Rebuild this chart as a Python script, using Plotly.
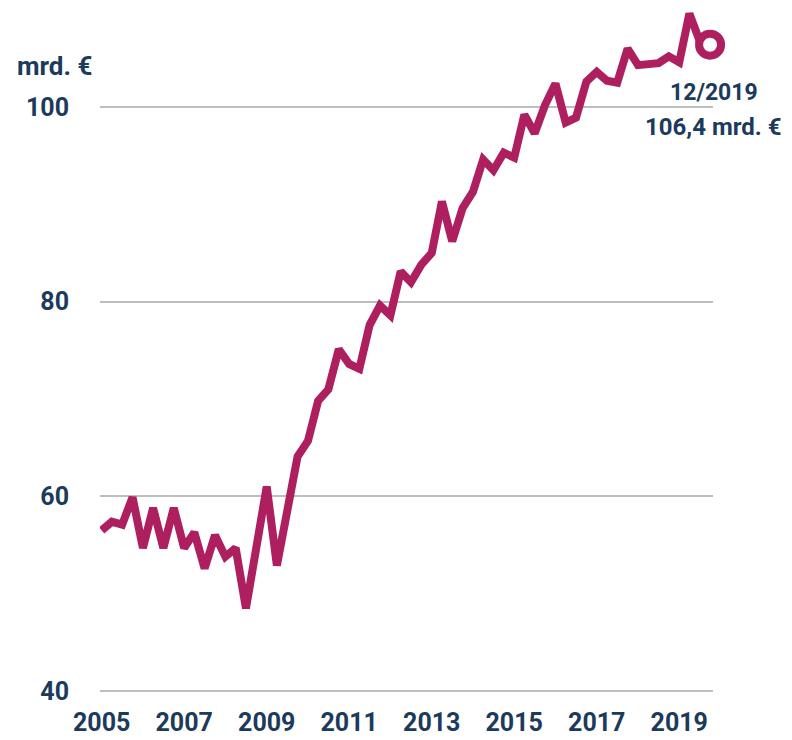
import plotly.graph_objects as go
import pandas as pd

# quarterly values, 2005 Q1 .. 2019 Q4 (mrd. €)
quarters = pd.date_range("2005-01-01", "2019-10-01", freq="QS")
values = [
    56.5, 57.4, 57.1, 59.9, 54.7, 58.8, 54.7, 58.8, 54.7, 56.3,
    52.6, 56.0, 53.8, 54.7, 48.5, 55.0, 61.0, 52.9, 58.9, 64.1,
    65.7, 69.8, 71.0, 75.1, 73.6, 73.1, 77.6, 79.6, 78.6, 83.1,
    82.0, 83.8, 85.0, 90.3, 86.2, 89.6, 91.3, 94.6, 93.5, 95.3,
    94.8, 99.2, 97.3, 100.2, 102.4, 98.4, 98.9, 102.6, 103.6, 102.7,
    102.5, 106.0, 104.3, 104.4, 104.5, 105.2, 104.6, 109.6, 106.8, 106.4,
]
y_ticks = [40, 60, 80, 100]
x_ticks = ["2005", "2007", "2009", "2011", "2013", "2015", "2017", "2019"]

LINE_COLOR = "#AE1F5F"
TEXT_COLOR = "#1B3A5C"
FONT = "Roboto"
PAGE_OFFSET = 8   # body margin of the html page
PLOT_H = 685      # plot area height in px
PLOT_W = 613


def py(page_y):
    # pixel row on the page -> paper y
    return 1 - (page_y - PAGE_OFFSET) / PLOT_H


def px(page_x):
    return (page_x - PAGE_OFFSET - 92) / PLOT_W


fig = go.Figure()

fig.add_trace(go.Scatter(
    x=quarters,
    y=values,
    mode="lines",
    line=dict(color=LINE_COLOR, width=8),
    hoverinfo="skip",
))

fig.add_trace(go.Scatter(
    x=[quarters[-1]],
    y=[values[-1]],
    mode="markers",
    marker=dict(size=22, color="white", line=dict(color=LINE_COLOR, width=8)),
    cliponaxis=False,
    hoverinfo="skip",
))

fig.update_layout(
    width=792,
    height=740,
    showlegend=False,
    paper_bgcolor="white",
    plot_bgcolor="white",
    margin=dict(l=92, r=87, t=0, b=740 - PLOT_H),
    font=dict(family=FONT, color=TEXT_COLOR),
    xaxis=dict(
        type="date",
        range=["2004-12-17", "2019-10-27"],
        tickvals=[f"{y}-01-01" for y in x_ticks],
        ticktext=x_ticks,
        showgrid=False,
        zeroline=False,
        showline=False,
        automargin=False,
        tickfont=dict(size=25, weight=700, color=TEXT_COLOR),
        ticklabelstandoff=12,
    ),
    yaxis=dict(
        range=[39.8, 110.17],
        tickvals=y_ticks,
        showgrid=True,
        gridcolor="#BDBDBD",
        gridwidth=2,
        zeroline=False,
        showline=False,
        automargin=False,
        tickfont=dict(size=25, weight=700, color=TEXT_COLOR),
        ticklabelstandoff=30,
    ),
    annotations=[
        dict(
            text="mrd. €", xref="paper", yref="paper",
            x=px(94), y=py(66),
            xanchor="right", yanchor="middle", showarrow=False,
            font=dict(size=26, weight=700, color=TEXT_COLOR),
        ),
        dict(
            text="12/2019", xref="paper", yref="paper",
            x=px(714), y=py(93),
            xanchor="center", yanchor="middle", showarrow=False,
            font=dict(size=23, weight=700, color=TEXT_COLOR),
        ),
        dict(
            text="106,4 mrd. €", xref="paper", yref="paper",
            x=px(714), y=py(127),
            xanchor="center", yanchor="middle", showarrow=False,
            font=dict(size=24, weight=700, color=TEXT_COLOR),
        ),
    ],
)

fig.write_html("out.html")
